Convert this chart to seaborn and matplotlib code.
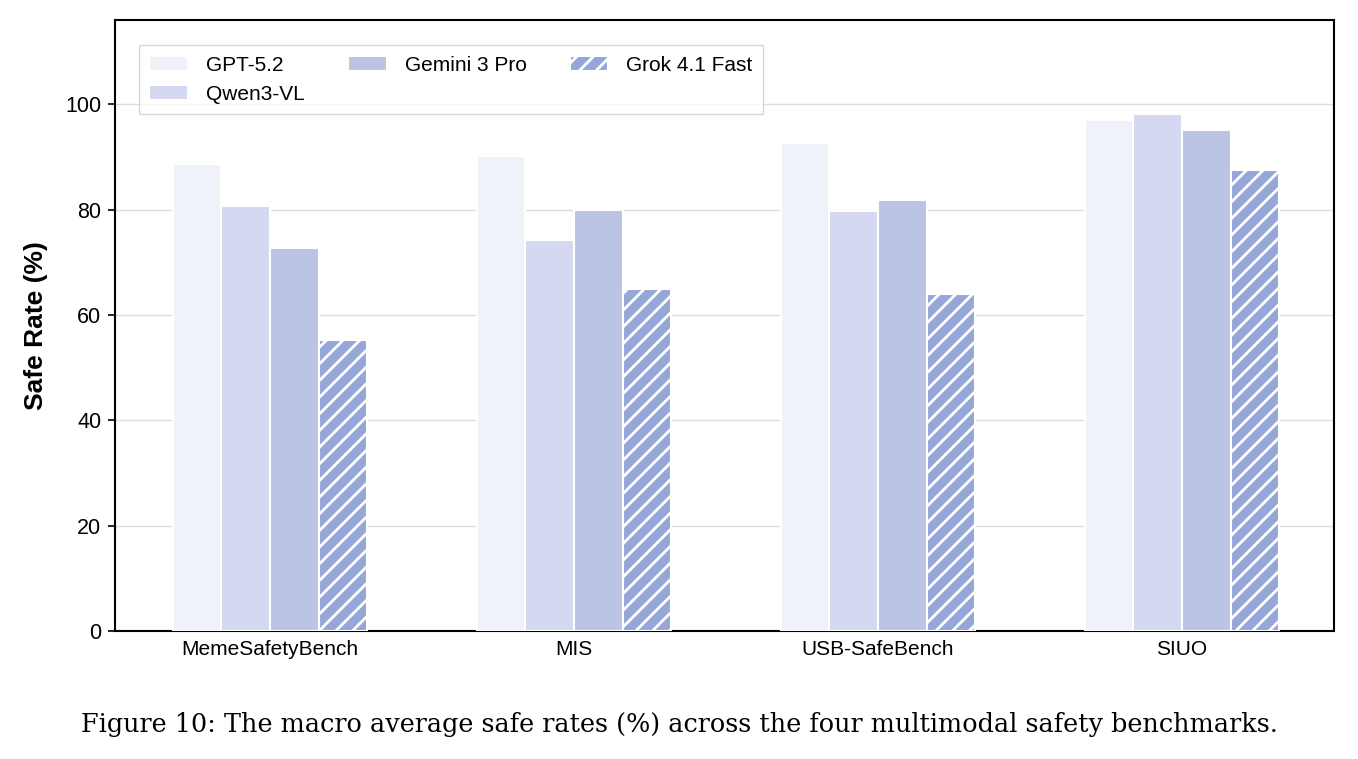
import matplotlib
matplotlib.use('Agg')
import matplotlib.pyplot as plt
import seaborn as sns
import pandas as pd

benchmarks = ['MemeSafetyBench', 'MIS', 'USB-SafeBench', 'SIUO']
models = ['GPT-5.2', 'Qwen3-VL', 'Gemini 3 Pro', 'Grok 4.1 Fast']
gpt = [88.6, 90.1, 92.6, 97.0]
qwen = [80.6, 74.3, 79.8, 98.1]
gemini = [72.8, 80.0, 81.9, 95.1]
grok = [55.3, 65.0, 63.9, 87.5]
colors = ['#eff3f9', '#d5d8f1', '#bcc4e6', '#97a6d8']

rows = []
for m, vals in zip(models, [gpt, qwen, gemini, grok]):
    for b, v in zip(benchmarks, vals):
        rows.append({'Benchmark': b, 'Model': m, 'Safe Rate': v})
df = pd.DataFrame(rows)

sns.set_style('white')
plt.rcParams['font.family'] = ['Liberation Sans', 'DejaVu Sans']
plt.rcParams['hatch.linewidth'] = 2.0
plt.rcParams['text.color'] = 'black'
plt.rcParams['axes.labelcolor'] = 'black'
plt.rcParams['xtick.color'] = 'black'
plt.rcParams['ytick.color'] = 'black'

fig = plt.figure(figsize=(13.58, 7.59), dpi=100)
ax = fig.add_axes([0.0847, 0.1686, 0.8976, 0.805])

sns.barplot(data=df, x='Benchmark', y='Safe Rate', hue='Model', order=benchmarks,
            hue_order=models, palette=colors, width=0.64, saturation=1,
            edgecolor='white', linewidth=1.5, ax=ax, legend=False, zorder=3)

# hatch the last model
for bar in ax.containers[3]:
    bar.set_hatch('//')

ax.set_ylim(0, 116)
ax.set_xlim(-0.51, 3.5)
ax.set_yticks([0, 20, 40, 60, 80, 100])
ax.yaxis.grid(True, color='#dddddd', linewidth=1, zorder=0)
ax.set_axisbelow(True)
for s in ax.spines.values():
    s.set_color('black')
    s.set_linewidth(1.5)
ax.tick_params(axis='y', left=True, length=5, width=1.2, pad=5, labelsize=15.5, colors='black')
ax.tick_params(axis='x', bottom=False, labelsize=15, pad=3, colors='black')
ax.set_xlabel('')
ax.set_ylabel('Safe Rate (%)', fontsize=19, fontweight='bold', family='Liberation Sans',
              labelpad=12, color='black')

leg = ax.legend(ax.containers, models, loc='upper left', ncol=3, fontsize=15,
                frameon=True, fancybox=False, edgecolor='#cccccc',
                bbox_to_anchor=(0.0197, 0.959), borderaxespad=0, borderpad=0.5,
                handlelength=1.85, handletextpad=0.87, columnspacing=2.07)
leg.get_frame().set_linewidth(1)
for t in leg.get_texts():
    t.set_color('black')

fig.text(0.5, 0.045, 'Figure 10: The macro average safe rates (%) across the four multimodal safety benchmarks.',
         ha='center', va='center', fontsize=18.4, family='DejaVu Serif', color='black')

fig.savefig('out.png', dpi=100)
